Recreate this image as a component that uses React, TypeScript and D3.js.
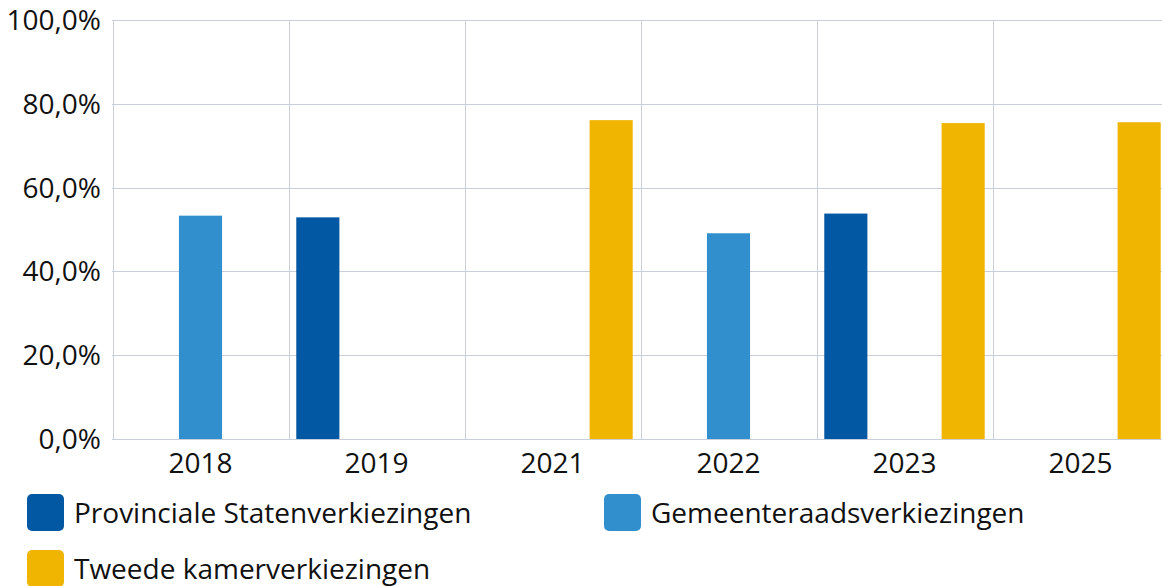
import { useEffect, useRef } from 'react'
import * as d3 from 'd3'

const years = ['2018', '2019', '2021', '2022', '2023', '2025']
const seriesNames = ['Provinciale Statenverkiezingen', 'Gemeenteraadsverkiezingen', 'Tweede kamerverkiezingen']
const seriesColors = ['#0358a4', '#318fce', '#f0b500']
const provinciale = [null, 52.9, null, null, 53.8, null]
const gemeenteraad = [53.3, null, null, 49.1, null, null]
const tweedeKamer = [null, null, 76.1, null, 75.4, 75.6]
const yTicks = [0, 20, 40, 60, 80, 100]

export default function App() {
  const svgRef = useRef<SVGSVGElement>(null)

  useEffect(() => {
    const w = 1162
    const h = 586
    const svg = d3.select(svgRef.current).attr('width', w).attr('height', h)
    svg.selectAll('*').remove()

    const font = '"Open Sans", sans-serif'

    // scales
    const x = d3.scaleBand<string>().domain(years).range([112.5, 1168.5]).padding(0)
    const sub = d3.scaleBand<number>().domain([0, 1, 2]).range([0, x.bandwidth()]).padding(0)
    const y = d3.scaleLinear().domain([0, 100]).range([439, 20])
    const barW = sub.bandwidth() * 0.735

    const grid = svg.append('g').attr('stroke', '#c9cedb').attr('stroke-width', 1)
    grid.selectAll('.h')
      .data(yTicks)
      .join('line')
      .attr('x1', 112).attr('x2', w)
      .attr('y1', d => Math.round(y(d)) + 0.5)
      .attr('y2', d => Math.round(y(d)) + 0.5)
    grid.selectAll('.v')
      .data(years)
      .join('line')
      .attr('x1', d => Math.round(x(d)!) + 0.5)
      .attr('x2', d => Math.round(x(d)!) + 0.5)
      .attr('y1', y(100)).attr('y2', y(0))

    // y labels
    svg.append('g')
      .selectAll('text')
      .data(yTicks)
      .join('text')
      .attr('x', 101)
      .attr('y', d => y(d) + 10)
      .attr('text-anchor', 'end')
      .attr('font-family', font)
      .attr('font-size', 28)
      .attr('fill', '#111')
      .text(d => d3.format('.1f')(d).replace('.', ',') + '%')

    // x labels
    svg.append('g')
      .selectAll('text')
      .data(years)
      .join('text')
      .attr('x', d => x(d)! + x.bandwidth() / 2)
      .attr('y', 473)
      .attr('text-anchor', 'middle')
      .attr('font-family', font)
      .attr('font-size', 28)
      .attr('fill', '#111')
      .text(d => d)

    // bars
    const all = [provinciale, gemeenteraad, tweedeKamer]
    all.forEach((vals, si) => {
      svg.append('g')
        .selectAll('rect')
        .data(years.map((yr, i) => ({ yr, v: vals[i] })).filter(d => d.v != null))
        .join('rect')
        .attr('x', d => x(d.yr)! + sub(si)! + (sub.bandwidth() - barW) / 2)
        .attr('y', d => y(d.v as number))
        .attr('width', barW)
        .attr('height', d => y(0) - y(d.v as number))
        .attr('fill', seriesColors[si])
    })

    // legend
    const legendPos = [[27, 494], [604, 494], [27, 550]]
    const legend = svg.append('g')
    seriesNames.forEach((name, i) => {
      const [lx, ly] = legendPos[i]
      legend.append('rect')
        .attr('x', lx).attr('y', ly)
        .attr('width', 37).attr('height', 37)
        .attr('rx', 5)
        .attr('fill', seriesColors[i])
      legend.append('text')
        .attr('x', lx + 47)
        .attr('y', ly + 29)
        .attr('font-family', font)
        .attr('font-size', 28)
        .attr('fill', '#111')
        .text(name)
    })
  }, [])

  return (
    <svg ref={svgRef} style={{ position: 'absolute', left: 0, top: 0 }}></svg>
  )
}
